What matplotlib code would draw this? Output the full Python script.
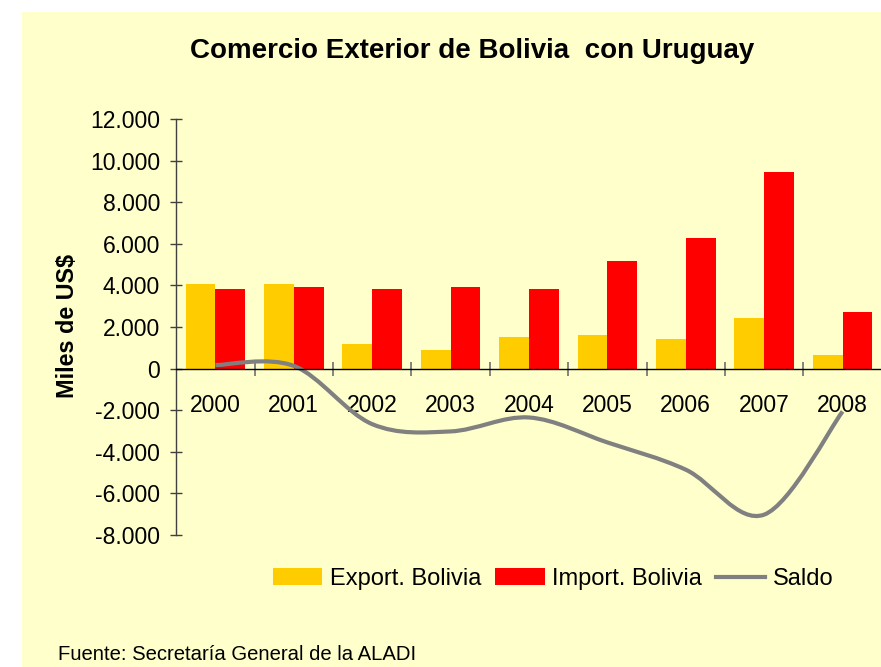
import matplotlib
matplotlib.use("Agg")
import matplotlib.pyplot as plt
import numpy as np
from matplotlib.path import Path
from matplotlib.patches import PathPatch, Rectangle, Patch
from matplotlib.lines import Line2D

plt.rcParams['font.family'] = ['Liberation Sans', 'DejaVu Sans']

years = ["2000", "2001", "2002", "2003", "2004", "2005", "2006", "2007", "2008"]
export_bolivia = [4050, 4050, 1180, 900, 1500, 1600, 1440, 2430, 640]
import_bolivia = [3850, 3920, 3850, 3920, 3850, 5150, 6300, 9450, 2700]
saldo = [170, 130, -2670, -3020, -2350, -3550, -4860, -7020, -2060]
yticks = [12000, 10000, 8000, 6000, 4000, 2000, 0, -2000, -4000, -6000, -8000]
ytick_labels = ["12.000", "10.000", "8.000", "6.000", "4.000", "2.000", "0",
                "-2.000", "-4.000", "-6.000", "-8.000"]

W, H = 881, 667
fig = plt.figure(figsize=(W / 100, H / 100), dpi=100, facecolor="white")
fig.patches.append(Rectangle((22 / W, 0), 1 - 22 / W, 1 - 12 / H, transform=fig.transFigure,
                             facecolor="#FFFFCC", edgecolor="none", zorder=-10))

ax = fig.add_axes([176.2 / W, 1 - 535 / H, 705.6 / W, 416 / H])
ax.set_facecolor("none")

x = np.arange(len(years))
bw = 0.38
ax.bar(x - bw / 2, export_bolivia, bw, color="#FFCC00", zorder=2)
ax.bar(x + bw / 2, import_bolivia, bw, color="#FF0000", zorder=2)

# smoothed saldo line (Catmull-Rom -> cubic Bezier)
pts = np.column_stack([x, saldo]).astype(float)
verts = [pts[0]]
codes = [Path.MOVETO]
n = len(pts)
for i in range(n - 1):
    p0 = pts[i - 1] if i > 0 else pts[i]
    p1 = pts[i]
    p2 = pts[i + 1]
    p3 = pts[i + 2] if i + 2 < n else pts[i + 1]
    c1 = p1 + (p2 - p0) / 6.0
    c2 = p2 - (p3 - p1) / 6.0
    verts += [c1, c2, p2]
    codes += [Path.CURVE4] * 3
ax.add_patch(PathPatch(Path(verts, codes), facecolor="none", edgecolor="#808080",
                       lw=3, zorder=3, capstyle="butt"))

ax.set_xlim(-0.5, len(years) - 0.5)
ax.set_ylim(-8000, 12000)

for s in ["top", "right"]:
    ax.spines[s].set_visible(False)
ax.spines["bottom"].set_position(("data", 0))
ax.spines["bottom"].set_color("black")
ax.spines["bottom"].set_linewidth(1)
ax.spines["bottom"].set_zorder(4)
ax.spines["left"].set_color("#404040")
ax.spines["left"].set_linewidth(1)

ax.set_yticks(yticks)
ax.set_yticklabels(ytick_labels, fontsize=16.5)
ax.tick_params(axis="y", direction="inout", length=9, width=1, color="#404040", pad=7)

ax.set_xticks(x)
ax.set_xticklabels(years, fontsize=16.5)
ax.set_xticks(np.arange(0.5, len(years) - 1, 1.0), minor=True)
ax.tick_params(axis="x", which="major", length=0, pad=18.5)
ax.tick_params(axis="x", which="minor", direction="inout", length=10, width=1.2, color="#707070")

fig.text(472.5 / W, 1 - 58 / H, "Comercio Exterior de Bolivia  con Uruguay",
         ha="center", va="baseline", fontsize=20, fontweight="bold")
fig.text(67 / W, 1 - 326 / H, "Miles de US$", rotation=90, ha="center", va="center",
         fontsize=16.8, fontweight="bold")
fig.text(58 / W, 1 - 655 / H, "Fuente: Secretaría General de la ALADI",
         ha="left", va="center", fontsize=14.6)

handles = [Patch(facecolor="#FFCC00", edgecolor="none"),
           Patch(facecolor="#FF0000", edgecolor="none"),
           Line2D([0], [0], color="#808080", lw=3)]
leg = fig.legend(handles, ["Export. Bolivia", "Import. Bolivia", "Saldo"],
                 loc="center", bbox_to_anchor=(553 / W, 1 - 579 / H), ncol=3,
                 frameon=False, fontsize=17, handlelength=2.1, handleheight=0.7,
                 handletextpad=0.3, columnspacing=0.6, borderaxespad=0)

fig.savefig("out.png", dpi=100, facecolor=fig.get_facecolor())
